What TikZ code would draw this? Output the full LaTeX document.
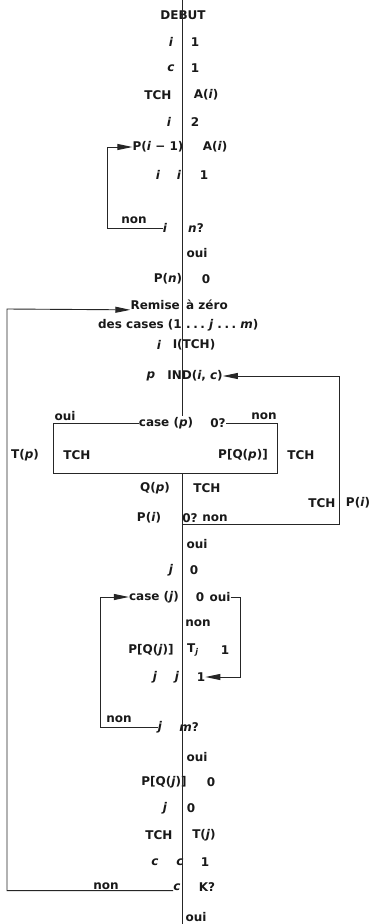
\documentclass[tikz,border=0pt]{standalone}
\usepackage{fontspec}
\setmainfont{DejaVu Sans}
\usetikzlibrary{arrows.meta}
\newcommand\dts{.\kern2.5pt.\kern2.5pt.}
\begin{document}
\begin{tikzpicture}[x=1pt,y=-1pt,
  txt/.style={font=\bfseries\fontsize{12}{14}\selectfont, inner sep=0pt, text=black!90},
  ln/.style={line width=0.9pt, black!85},
  arr/.style={ln, -{Triangle[length=15pt,width=6pt]}}]
\useasboundingbox[fill=white] (0,0) rectangle (379,924);

% ---------- text nodes ----------
\node[txt] (debut) at (183,15) {DEBUT};
\node[txt] (a1) at (171,42) {\textit{i}};
\node[txt] (b1) at (195,42) {1};
\node[txt] (a2) at (171,68) {\textit{c}};
\node[txt] (b2) at (195,68) {1};
\node[txt] (a3) at (158,95) {TCH};
\node[txt] (b3) at (206,95) {A(\textit{i})};
\node[txt] (a4) at (169,122) {\textit{i}};
\node[txt] (b4) at (195,122) {2};
\node[txt] (a5) at (158,147) {P(\textit{i} − 1)};
\node[txt] (b5) at (215,147) {A(\textit{i})};
\node[txt] (a6) at (158,175) {\textit{i}};
\node[txt] (m6) at (179,175) {\textit{i}};
\node[txt] (b6) at (204,175) {1};
\node[txt] (n7) at (134,220) {non};
\node[txt] (a7) at (165,228) {\textit{i}};
\node[txt] (b7) at (196,228) {\textit{n}?};
\node[txt] (o8) at (197,253) {oui};
\node[txt] (a9) at (168,279) {P(\textit{n})};
\node[txt] (b9) at (206,279) {0};
\node[txt,anchor=east] (a10) at (180,305) {Remise};
\node[txt,anchor=west] (b10) at (186,305) {à zéro};
\node[txt,anchor=east] (a11) at (182,325) {des cases (1};
\node[txt,anchor=west] (b11) at (186,325) {\dts\ \textit{j} \dts\ \textit{m})};
\node[txt] (a12) at (159,345) {\textit{i}};
\node[txt] (b12) at (194,345) {I(TCH)};
\node[txt] (a13) at (151,376) {\textit{p}};
\node[txt] (b13) at (195,376) {IND(\textit{i}, \textit{c})};

\node[txt] (casep) at (166,423) {case (\textit{p})};
\node[txt] (q14) at (218,423) {0?};
\node[txt] (oui14) at (65,416) {oui};
\node[txt] (non14) at (264,416) {non};
\node[txt] (tp) at (25,455) {T(\textit{p})};
\node[txt] (tch1) at (77,455) {TCH};
\node[txt] (pqp) at (243,455) {P[Q(\textit{p})]};
\node[txt] (tch2) at (301,455) {TCH};
\node[txt] (qp) at (155,488) {Q(\textit{p})};
\node[txt] (tch3) at (207,488) {TCH};
\node[txt] (tch4) at (322,503) {TCH};
\node[txt] (pi2) at (358,503) {P(\textit{i})};
\node[txt] (pi) at (149,518) {P(\textit{i})};
\node[txt] (q15) at (190,518) {0?};
\node[txt] (non15) at (215,518) {non};
\node[txt] (oui16) at (197,544) {oui};
\node[txt] (a17) at (171,570) {\textit{j}};
\node[txt] (b17) at (194,570) {0};
\node[txt] (casej) at (154,597) {case (\textit{j})};
\node[txt] (b18) at (200,597) {0};
\node[txt] (oui18) at (220,597) {oui};
\node[txt] (non19) at (198,623) {non};
\node[txt] (a20) at (151,650) {P[Q(\textit{j})]};
\node[txt] (m20) at (193,650) {T\textsubscript{\textit{j}}};
\node[txt] (b20) at (225,650) {1};
\node[txt] (a21) at (155,677) {\textit{j}};
\node[txt] (m21) at (177,677) {\textit{j}};
\node[txt] (b21) at (201,677) {1};
\node[txt] (non22) at (119,719) {non};
\node[txt] (a22) at (160,727) {\textit{j}};
\node[txt] (b22) at (189,727) {\textit{m}?};
\node[txt] (oui23) at (197,757) {oui};
\node[txt] (a24) at (164,782) {P[Q(\textit{j})]};
\node[txt] (b24) at (211,782) {0};
\node[txt] (a25) at (165,808) {\textit{j}};
\node[txt] (b25) at (191,808) {0};
\node[txt] (a26) at (159,835) {TCH};
\node[txt] (b26) at (204,835) {T(\textit{j})};
\node[txt] (a27) at (155,862) {\textit{c}};
\node[txt] (m27) at (180,862) {\textit{c}};
\node[txt] (b27) at (205,862) {1};
\node[txt] (non28) at (106,886) {non};
\node[txt] (a28) at (177,887) {\textit{c}};
\node[txt] (b28) at (207,887) {K?};
\node[txt] (oui29) at (196,917) {oui};

% ---------- coordinates ----------
\coordinate (top) at (182,0);
\coordinate (gapT) at (182,416);
\coordinate (gapB) at (182,473);
\coordinate (bot) at (182,924);
\coordinate (L1) at (107,147);
\coordinate (L2) at (7,309);
\coordinate (R0) at (183,524);
\coordinate (R1) at (339,376);
\coordinate (BL) at (53,423);
\coordinate (BLb) at (53,473);
\coordinate (BRb) at (277,473);
\coordinate (BR) at (277,423);
\coordinate (J1) at (100,597);
\coordinate (J2) at (240,677);

% ---------- main line ----------
\draw[ln] (top) -- (gapT);
\draw[ln] (gapB) -- (bot);

% ---------- loops ----------
\draw[arr] (a7.west) -| (L1) -- (a5.west);
\draw[arr] (a28.south west) -| (L2) -- (a10.south west);
\draw[arr] (R0) -| (R1) -- (b13.east);
\draw[ln] (casep.west) -- (BL) -- (BLb) -- (BRb) -- (BR) -- (q14.east);
\draw[arr] (a22.west) -| (J1) -- (casej.west);
\draw[arr] (oui18.east) -| (J2) -- (b21.east);
\end{tikzpicture}
\end{document}
